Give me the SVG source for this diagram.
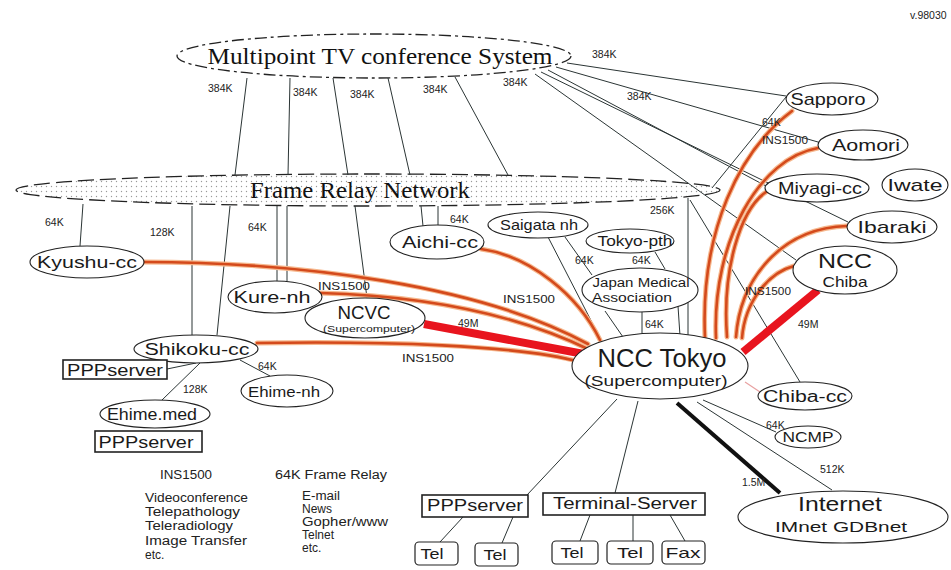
<svg xmlns="http://www.w3.org/2000/svg" width="951" height="570" viewBox="0 0 951 570">
  <defs>
    <pattern id="stipple" width="5" height="5" patternUnits="userSpaceOnUse">
      <circle cx="1.5" cy="1.5" r="0.7" fill="#9a9a9a"/>
    </pattern>
    <style>
      .node ellipse { fill: #fff; stroke: #222; stroke-width: 1.1; }
      .box { fill: #fff; stroke: #222; stroke-width: 1.6; }
      .tel { fill: #fff; stroke: #222; stroke-width: 1.2; }
      .nt { font-family: "Liberation Sans", Arial, sans-serif; fill: #1a1a1a; text-anchor: middle; }
      .ttl { font-family: "Liberation Serif", "Times New Roman", serif; fill: #111; text-anchor: middle; }
      .lbl { font-family: "Liberation Sans", Arial, sans-serif; font-size: 10.5px; fill: #222; }
      .lg { font-family: "Liberation Sans", Arial, sans-serif; font-size: 12px; fill: #222; }
      .thin { stroke: #2b3535; stroke-width: 1; fill: none; }
      .ins-halo { stroke: #f6b88e; stroke-width: 5; fill: none; stroke-linecap: round; }
      .ins { stroke: #d44a1c; stroke-width: 2.6; fill: none; stroke-linecap: round; }
      .fast { stroke: #e8141e; stroke-width: 8; fill: none; }
      .inet { stroke: #111; stroke-width: 4; fill: none; }
    </style>
  </defs>

  <rect width="951" height="570" fill="#fff"/>

  <!-- backbone clouds -->
  <g id="multipoint">
    <ellipse cx="374" cy="56" rx="197" ry="22" fill="#fff" stroke="#222" stroke-width="1.3" stroke-dasharray="12 4 3 4"/>
    <text class="ttl" x="380" y="64" font-size="24" textLength="345" lengthAdjust="spacingAndGlyphs">Multipoint TV conference System</text>
  </g>
  <g id="frame-relay">
    <ellipse cx="368" cy="190" rx="352" ry="16" fill="url(#stipple)" stroke="#222" stroke-width="1.3" stroke-dasharray="16 6"/>
    <text class="ttl" x="360" y="198" font-size="24" textLength="220" lengthAdjust="spacingAndGlyphs">Frame Relay Network</text>
  </g>

  <!-- connectors -->
  <g id="connectors">
    <!-- TV conference to frame relay -->
    <line class="thin" x1="247" y1="78" x2="235" y2="175"/>
    <line class="thin" x1="290" y1="78" x2="288" y2="175"/>
    <line class="thin" x1="333" y1="78" x2="348" y2="175"/>
    <line class="thin" x1="388" y1="78" x2="410" y2="175"/>
    <line class="thin" x1="455" y1="77" x2="508" y2="175"/>
    <!-- TV conference to northern sites -->
    <line class="thin" x1="567" y1="63" x2="786" y2="96"/>
    <line class="thin" x1="556" y1="67" x2="818" y2="142"/>
    <line class="thin" x1="548" y1="70" x2="766" y2="186"/>
    <line class="thin" x1="541" y1="72" x2="848" y2="222"/>
    <line class="thin" x1="535" y1="74" x2="796" y2="260"/>
    <!-- frame relay branches -->
    <line class="thin" x1="83" y1="204" x2="80" y2="246"/>
    <line class="thin" x1="192" y1="206" x2="192" y2="335"/>
    <line class="thin" x1="230" y1="206" x2="217" y2="335"/>
    <line class="thin" x1="277" y1="206" x2="277" y2="281"/>
    <line class="thin" x1="287" y1="206" x2="287" y2="281"/>
    <line class="thin" x1="355" y1="206" x2="367" y2="298"/>
    <line class="thin" x1="421" y1="206" x2="423" y2="226"/>
    <line class="thin" x1="438" y1="206" x2="438" y2="225"/>
    <line class="thin" x1="688" y1="198" x2="688" y2="336"/>
    <line class="thin" x1="690" y1="200" x2="800" y2="382"/>
    <line class="thin" x1="786" y1="97" x2="712" y2="188"/>
    <!-- Tokyo area local lines -->
    <line class="thin" x1="548" y1="237" x2="600" y2="338"/>
    <line class="thin" x1="565" y1="237" x2="592" y2="275"/>
    <line class="thin" x1="655" y1="252" x2="665" y2="269"/>
    <line class="thin" x1="605" y1="311" x2="623" y2="337"/>
    <line class="thin" x1="642" y1="312" x2="642" y2="333"/>
    <line class="thin" x1="678" y1="306" x2="680" y2="336"/>
    <!-- Shikoku area -->
    <line class="thin" x1="167" y1="369" x2="196" y2="363"/>
    <line class="thin" x1="200" y1="363" x2="162" y2="400"/>
    <line class="thin" x1="240" y1="360" x2="270" y2="376"/>
    <!-- NCC Tokyo to east / internet -->
    <line x1="745" y1="382" x2="760" y2="392" stroke="#e8a0a0" stroke-width="1.2"/>
    <line class="thin" x1="703" y1="400" x2="776" y2="432"/>
    <line class="thin" x1="697" y1="402" x2="832" y2="490"/>
    <line class="inet" x1="677" y1="403" x2="780" y2="493"/>
    <!-- NCC Tokyo to servers -->
    <line class="thin" x1="617" y1="399" x2="527" y2="495"/>
    <line class="thin" x1="638" y1="401" x2="615" y2="493"/>
    <line class="thin" x1="463" y1="517" x2="440" y2="542"/>
    <line class="thin" x1="513" y1="517" x2="502" y2="543"/>
    <line class="thin" x1="590" y1="515" x2="580" y2="541"/>
    <line class="thin" x1="633" y1="515" x2="633" y2="542"/>
    <line class="thin" x1="670" y1="515" x2="685" y2="541"/>

    <!-- INS1500 lines -->
    <g class="ins-halo">
      <path d="M143,262 C300,262 480,285 588,344"/>
      <path d="M320,293 C430,296 520,316 590,350"/>
      <path d="M481,249 C530,256 578,295 600,340"/>
      <path d="M257,343 C380,341 520,345 580,362"/>
      <path d="M792,111 C740,150 700,230 705,338"/>
      <path d="M818,148 C760,158 712,240 716,338"/>
      <path d="M766,192 C740,210 722,270 727,337"/>
      <path d="M847,226 C780,228 740,280 736,337"/>
      <path d="M794,266 C770,272 745,300 742,338"/>
    </g>
    <g class="ins">
      <path d="M143,262 C300,262 480,285 588,344"/>
      <path d="M320,293 C430,296 520,316 590,350"/>
      <path d="M481,249 C530,256 578,295 600,340"/>
      <path d="M257,343 C380,341 520,345 580,362"/>
      <path d="M792,111 C740,150 700,230 705,338"/>
      <path d="M818,148 C760,158 712,240 716,338"/>
      <path d="M766,192 C740,210 722,270 727,337"/>
      <path d="M847,226 C780,228 740,280 736,337"/>
      <path d="M794,266 C770,272 745,300 742,338"/>
    </g>
    <!-- 49M trunks -->
    <line class="fast" x1="424" y1="324" x2="584" y2="354"/>
    <line class="fast" x1="818" y1="290" x2="743" y2="352"/>
  </g>

  <!-- line labels -->
  <g id="labels">
    <text class="lbl" x="208" y="92">384K</text>
    <text class="lbl" x="293" y="96">384K</text>
    <text class="lbl" x="350" y="98">384K</text>
    <text class="lbl" x="423" y="93">384K</text>
    <text class="lbl" x="503" y="86">384K</text>
    <text class="lbl" x="592" y="58">384K</text>
    <text class="lbl" x="627" y="100">384K</text>
    <text class="lbl" x="45" y="226">64K</text>
    <text class="lbl" x="150" y="236">128K</text>
    <text class="lbl" x="248" y="231">64K</text>
    <text class="lbl" x="450" y="223">64K</text>
    <text class="lbl" x="650" y="214">256K</text>
    <text class="lbl" x="575" y="264">64K</text>
    <text class="lbl" x="632" y="264">64K</text>
    <text class="lbl" x="645" y="328">64K</text>
    <text class="lbl" x="762" y="126">64K</text>
    <text class="lbl" x="762" y="144" textLength="46" lengthAdjust="spacingAndGlyphs">INS1500</text>
    <text class="lbl" x="318" y="290" textLength="52" lengthAdjust="spacingAndGlyphs">INS1500</text>
    <text class="lbl" x="503" y="303" textLength="52" lengthAdjust="spacingAndGlyphs">INS1500</text>
    <text class="lbl" x="402" y="362" textLength="52" lengthAdjust="spacingAndGlyphs">INS1500</text>
    <text class="lbl" x="745" y="295" textLength="46" lengthAdjust="spacingAndGlyphs">INS1500</text>
    <text class="lbl" x="458" y="327">49M</text>
    <text class="lbl" x="798" y="328">49M</text>
    <text class="lbl" x="183" y="393">128K</text>
    <text class="lbl" x="258" y="370">64K</text>
    <text class="lbl" x="766" y="429">64K</text>
    <text class="lbl" x="820" y="473">512K</text>
    <text class="lbl" x="742" y="486">1.5M</text>
    <text class="lbl" x="910" y="19" font-size="7">v.98030</text>
  </g>

  <!-- sites -->
  <g id="kyushu-cc" class="node"><ellipse cx="87" cy="262" rx="57" ry="16"/><text class="nt" x="87" y="268" font-size="17" textLength="100" lengthAdjust="spacingAndGlyphs">Kyushu-cc</text></g>
  <g id="kure-nh" class="node"><ellipse cx="275" cy="297" rx="47" ry="16"/><text class="nt" x="272" y="303" font-size="17" textLength="77" lengthAdjust="spacingAndGlyphs">Kure-nh</text></g>
  <g id="ncvc" class="node"><ellipse cx="365" cy="318" rx="60" ry="20"/><text class="nt" x="364" y="319" font-size="19" textLength="53" lengthAdjust="spacingAndGlyphs">NCVC</text><text class="nt" x="369" y="332" font-size="9" textLength="92" lengthAdjust="spacingAndGlyphs">(Supercomputer)</text></g>
  <g id="aichi-cc" class="node"><ellipse cx="437" cy="242" rx="47" ry="17"/><text class="nt" x="440" y="248" font-size="17" textLength="76" lengthAdjust="spacingAndGlyphs">Aichi-cc</text></g>
  <g id="saigata-nh" class="node"><ellipse cx="538" cy="225" rx="50" ry="13"/><text class="nt" x="539" y="230" font-size="15" textLength="78" lengthAdjust="spacingAndGlyphs">Saigata nh</text></g>
  <g id="tokyo-pth" class="node"><ellipse cx="630" cy="241" rx="44" ry="12"/><text class="nt" x="635" y="246" font-size="14" textLength="75" lengthAdjust="spacingAndGlyphs">Tokyo-pth</text></g>
  <g id="japan-medical" class="node"><ellipse cx="640" cy="290" rx="58" ry="22"/><text class="nt" x="641" y="287" font-size="12" textLength="97" lengthAdjust="spacingAndGlyphs">Japan Medical</text><text class="nt" x="632" y="302" font-size="12" textLength="80" lengthAdjust="spacingAndGlyphs">Association</text></g>
  <g id="ncc-tokyo" class="node"><ellipse cx="660" cy="366" rx="88" ry="33"/><text class="nt" x="662" y="367" font-size="26" textLength="129" lengthAdjust="spacingAndGlyphs">NCC Tokyo</text><text class="nt" x="656" y="386" font-size="15" textLength="143" lengthAdjust="spacingAndGlyphs">(Supercomputer)</text></g>
  <g id="sapporo" class="node"><ellipse cx="832" cy="99" rx="46" ry="16"/><text class="nt" x="828" y="105" font-size="17" textLength="75" lengthAdjust="spacingAndGlyphs">Sapporo</text></g>
  <g id="aomori" class="node"><ellipse cx="863" cy="145" rx="45" ry="15"/><text class="nt" x="866" y="151" font-size="17" textLength="68" lengthAdjust="spacingAndGlyphs">Aomori</text></g>
  <g id="miyagi-cc" class="node"><ellipse cx="817" cy="188" rx="52" ry="14"/><text class="nt" x="820" y="194" font-size="17" textLength="84" lengthAdjust="spacingAndGlyphs">Miyagi-cc</text></g>
  <g id="iwate" class="node"><ellipse cx="915" cy="185" rx="33" ry="16"/><text class="nt" x="915" y="191" font-size="17" textLength="55" lengthAdjust="spacingAndGlyphs">Iwate</text></g>
  <g id="ibaraki" class="node"><ellipse cx="892" cy="227" rx="45" ry="16"/><text class="nt" x="892" y="233" font-size="17" textLength="69" lengthAdjust="spacingAndGlyphs">Ibaraki</text></g>
  <g id="ncc-chiba" class="node"><ellipse cx="845" cy="270" rx="52" ry="24"/><text class="nt" x="845" y="268" font-size="21" textLength="54" lengthAdjust="spacingAndGlyphs">NCC</text><text class="nt" x="845" y="287" font-size="15" textLength="45" lengthAdjust="spacingAndGlyphs">Chiba</text></g>
  <g id="chiba-cc" class="node"><ellipse cx="805" cy="396" rx="47" ry="14"/><text class="nt" x="805" y="402" font-size="16" textLength="84" lengthAdjust="spacingAndGlyphs">Chiba-cc</text></g>
  <g id="ncmp" class="node"><ellipse cx="808" cy="437" rx="33" ry="11"/><text class="nt" x="808" y="442" font-size="14" textLength="51" lengthAdjust="spacingAndGlyphs">NCMP</text></g>
  <g id="internet" class="node"><ellipse cx="843" cy="517" rx="105" ry="26" stroke-width="3.5"/><text class="nt" x="840" y="511" font-size="21" textLength="84" lengthAdjust="spacingAndGlyphs">Internet</text><text class="nt" x="841" y="532" font-size="14" textLength="132" lengthAdjust="spacingAndGlyphs">IMnet  GDBnet</text></g>
  <g id="shikoku-cc" class="node"><ellipse cx="196" cy="349" rx="62" ry="14"/><text class="nt" x="197" y="355" font-size="16" textLength="105" lengthAdjust="spacingAndGlyphs">Shikoku-cc</text></g>
  <g id="ehime-nh" class="node"><ellipse cx="287" cy="391" rx="46" ry="16"/><text class="nt" x="284" y="397" font-size="15" textLength="72" lengthAdjust="spacingAndGlyphs">Ehime-nh</text></g>
  <g id="ehime-med" class="node"><ellipse cx="155" cy="414" rx="55" ry="14"/><text class="nt" x="152" y="420" font-size="16" textLength="90" lengthAdjust="spacingAndGlyphs">Ehime.med</text></g>

  <!-- servers and terminals -->
  <g id="ppp-shikoku"><rect class="box" x="63" y="360" width="104" height="19"/><text class="nt" x="115" y="376" font-size="17" textLength="96" lengthAdjust="spacingAndGlyphs">PPPserver</text></g>
  <g id="ppp-ehime"><rect class="box" x="95" y="431" width="107" height="21"/><text class="nt" x="146" y="448" font-size="17" textLength="95" lengthAdjust="spacingAndGlyphs">PPPserver</text></g>
  <g id="ppp-tokyo"><rect class="box" x="422" y="495" width="106" height="22"/><text class="nt" x="475" y="511" font-size="16" textLength="96" lengthAdjust="spacingAndGlyphs">PPPserver</text></g>
  <g id="terminal-server"><rect class="box" x="543" y="493" width="162" height="22"/><text class="nt" x="625" y="509" font-size="16" textLength="144" lengthAdjust="spacingAndGlyphs">Terminal-Server</text></g>
  <g id="tel-1"><rect class="tel" x="415" y="542" width="43" height="23" rx="4"/><text class="nt" x="432" y="559" font-size="15" textLength="23" lengthAdjust="spacingAndGlyphs">Tel</text></g>
  <g id="tel-2"><rect class="tel" x="475" y="543" width="43" height="23" rx="4"/><text class="nt" x="495" y="560" font-size="15" textLength="23" lengthAdjust="spacingAndGlyphs">Tel</text></g>
  <g id="tel-3"><rect class="tel" x="552" y="541" width="46" height="23" rx="4"/><text class="nt" x="572" y="558" font-size="15" textLength="23" lengthAdjust="spacingAndGlyphs">Tel</text></g>
  <g id="tel-4"><rect class="tel" x="607" y="541" width="46" height="23" rx="4"/><text class="nt" x="630" y="558" font-size="15" textLength="26" lengthAdjust="spacingAndGlyphs">Tel</text></g>
  <g id="fax"><rect class="tel" x="662" y="541" width="43" height="23" rx="4"/><text class="nt" x="683" y="558" font-size="15" textLength="35" lengthAdjust="spacingAndGlyphs">Fax</text></g>

  <!-- service legend -->
  <g id="legend">
    <text class="lg" x="160" y="479" font-size="11" textLength="52" lengthAdjust="spacingAndGlyphs">INS1500</text>
    <text class="lg" x="145" y="502" textLength="103" lengthAdjust="spacingAndGlyphs">Videoconference</text>
    <text class="lg" x="145" y="516" textLength="95" lengthAdjust="spacingAndGlyphs">Telepathology</text>
    <text class="lg" x="145" y="530" textLength="88" lengthAdjust="spacingAndGlyphs">Teleradiology</text>
    <text class="lg" x="145" y="545" textLength="102" lengthAdjust="spacingAndGlyphs">Image Transfer</text>
    <text class="lg" x="145" y="559">etc.</text>
    <text class="lg" x="275" y="479" font-size="11" textLength="112" lengthAdjust="spacingAndGlyphs">64K Frame Relay</text>
    <text class="lg" x="302" y="500" textLength="38" lengthAdjust="spacingAndGlyphs">E-mail</text>
    <text class="lg" x="302" y="513">News</text>
    <text class="lg" x="302" y="526" textLength="86" lengthAdjust="spacingAndGlyphs">Gopher/www</text>
    <text class="lg" x="302" y="539">Telnet</text>
    <text class="lg" x="302" y="552">etc.</text>
  </g>
</svg>
